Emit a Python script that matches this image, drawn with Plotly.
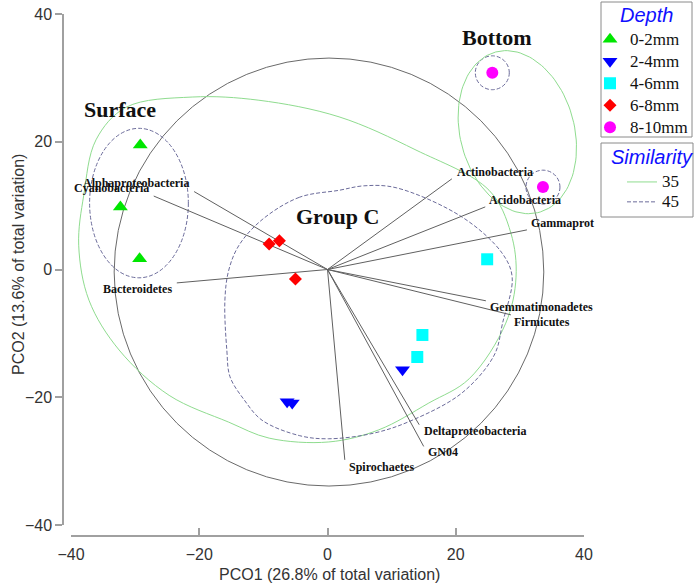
import numpy as np
import plotly.graph_objects as go

# ---------------- data ----------------
depth_names = ["0-2mm", "2-4mm", "4-6mm", "6-8mm", "8-10mm"]
depth_x = [
    [-29.2, -32.3, -29.3],
    [-6.3, -5.5, 11.7],
    [24.9, 14.8, 14.0],
    [-9.1, -7.5, -5.0],
    [25.7, 33.6],
]
depth_y = [
    [19.5, 9.8, 1.7],
    [-20.7, -20.9, -15.7],
    [1.6, -10.25, -13.7],
    [4.0, 4.5, -1.5],
    [30.8, 12.9],
]

vector_names = ["Alphaproteobacteria", "Cyanobacteria", "Bacteroidetes", "Actinobacteria",
                "Acidobacteria", "Gammaprot", "Gemmatimonadetes", "Firmicutes",
                "Deltaproteobacteria", "GN04", "Spirochaetes"]
vector_x = [-20.8, -27.1, -23.5, 19.4, 24.6, 31.1, 24.7, 28.6, 14.3, 15.0, 2.7]
vector_y = [12.2, 11.5, -2.1, 14.2, 9.8, 6.2, -4.9, -7.1, -24.3, -27.7, -29.8]

# similarity 35 contours
sim35_surface_x = [-38.8, -38.0, -36.1, -31.4, -21.1, -10.7, 1.8, 13.8, 25.2, 28.6, 29.4, 27.8,
                   22.1, 15.8, 8.0, 0.2, -9.1, -15.4, -24.7, -32.5, -37.2]
sim35_surface_y = [3.8, 11.7, 20.3, 25.4, 27.0, 26.5, 23.9, 18.7, 12.4, 5.7, -1.2, -8.4,
                   -17.1, -20.9, -25.1, -27.0, -26.4, -23.9, -19.7, -12.6, -4.8]
sim35_bottom = dict(cx=29.6, cy=21.5, a=13.0, b=8.9, angle_deg=105)

# similarity 45 contours
sim45_groupc_x = [1.8, -4.4, -10.2, -13.8, -15.4, -16.0, -15.7, -15.2, -13.0, -10.2, -4.4, 0.2,
                  7.3, 13.2, 21.0, 26.0, 27.3, 28.8, 27.2, 21.0, 10.7, 5.7]
sim45_groupc_y = [12.4, 11.3, 7.8, 3.8, -0.1, -4.8, -12.6, -16.8, -20.4, -23.6, -26.0, -26.5,
                  -25.6, -23.6, -19.3, -13.4, -8.4, -1.2, 2.6, 8.2, 12.8, 13.1]
sim45_surface = dict(cx=-29.4, cy=10.4, rx=7.7, ry=11.7)
sim45_bottom = [dict(cx=25.7, cy=30.8, r=2.65), dict(cx=33.6, cy=12.9, r=2.65)]

vector_circle = dict(cx=0.23, cy=-0.4, r=33.5)

group_labels = ["Surface", "Group C", "Bottom"]
group_label_x = [-32.4, 1.6, 26.4]
group_label_y = [25.0, 8.3, 36.4]

legend_titles = ["Depth", "Similarity"]
similarity_levels = ["35", "45"]

x_ticks = [-40, -20, 0, 20, 40]
y_ticks = [-40, -20, 0, 20, 40]

# ---------------- styles ----------------
W, H = 700, 587
marker_symbols = ["triangle-up", "triangle-down", "square", "diamond", "circle"]
marker_colors = ["#00e600", "#0000ff", "#00ffff", "#ff0000", "#ff00ff"]
marker_sizes = [13, 13, 12, 10, 12]
green = "#8fdc8f"
dashc = "#6b6b9a"
dash_pat = "4px,2px"
axis_c = "#a0a0a0"
box_c = "#8a8a8a"
# label placement relative to vector ends: (xanchor, xshift, yshift)
label_place = [("right", -3, 9), ("right", -3, 8), ("right", -3, -6), ("left", 3, 7),
               ("left", 2, 7), ("left", 2, 7), ("left", 2, -6), ("left", 1, -7),
               ("left", 3, -6), ("left", 2, -6), ("left", 2, -7)]
LEG_TXT = 17

def leg_name(t):
    return '<span style="font-size:%dpx">%s</span>' % (LEG_TXT, t)

def px_x(p):
    return p / W

def px_y(p):
    return 1 - p / H

fig = go.Figure()

def closed(xs, ys):
    return list(xs) + [xs[0]], list(ys) + [ys[0]]

# vector circle
fig.add_shape(type="circle", xref="x", yref="y",
              x0=vector_circle["cx"] - vector_circle["r"], x1=vector_circle["cx"] + vector_circle["r"],
              y0=vector_circle["cy"] - vector_circle["r"], y1=vector_circle["cy"] + vector_circle["r"],
              line=dict(color="#6a6a6a", width=1), layer="below")

# 45 ellipses (surface + bottom circles)
fig.add_shape(type="circle", xref="x", yref="y",
              x0=sim45_surface["cx"] - sim45_surface["rx"], x1=sim45_surface["cx"] + sim45_surface["rx"],
              y0=sim45_surface["cy"] - sim45_surface["ry"], y1=sim45_surface["cy"] + sim45_surface["ry"],
              line=dict(color=dashc, width=1, dash=dash_pat), layer="below")
for c in sim45_bottom:
    fig.add_shape(type="circle", xref="x", yref="y",
                  x0=c["cx"] - c["r"], x1=c["cx"] + c["r"], y0=c["cy"] - c["r"], y1=c["cy"] + c["r"],
                  line=dict(color=dashc, width=1, dash=dash_pat), layer="below")

# 35 contours
cx, cy = closed(sim35_surface_x, sim35_surface_y)
fig.add_trace(go.Scatter(x=cx, y=cy, mode="lines", line=dict(color=green, width=1, shape="spline", smoothing=1.0),
                         name=leg_name(similarity_levels[0]), legend="legend2", showlegend=True, hoverinfo="skip"))
t = np.linspace(0, 2 * np.pi, 120)
ang = np.deg2rad(sim35_bottom["angle_deg"])
ex_ = sim35_bottom["a"] * np.cos(t)
ey_ = sim35_bottom["b"] * np.sin(t)
bx = sim35_bottom["cx"] + ex_ * np.cos(ang) - ey_ * np.sin(ang)
by = sim35_bottom["cy"] + ex_ * np.sin(ang) + ey_ * np.cos(ang)
fig.add_trace(go.Scatter(x=bx, y=by, mode="lines", line=dict(color=green, width=1),
                         showlegend=False, hoverinfo="skip"))
# 45 group C contour
cx, cy = closed(sim45_groupc_x, sim45_groupc_y)
fig.add_trace(go.Scatter(x=cx, y=cy, mode="lines", line=dict(color=dashc, width=1, dash=dash_pat, shape="spline", smoothing=1.0),
                         name=leg_name(similarity_levels[1]), legend="legend2", showlegend=True, hoverinfo="skip"))

# vectors
vx, vy = [], []
for ex, ey in zip(vector_x, vector_y):
    vx += [0, ex, None]
    vy += [0, ey, None]
fig.add_trace(go.Scatter(x=vx, y=vy, mode="lines", line=dict(color="#606060", width=1),
                         showlegend=False, hoverinfo="skip"))
for name, ex, ey, (xa, xs, ys) in zip(vector_names, vector_x, vector_y, label_place):
    fig.add_annotation(x=ex, y=ey, text=name, showarrow=False, xanchor=xa, yanchor="middle",
                       xshift=xs, yshift=ys,
                       font=dict(family="Liberation Serif", size=12, color="#111111", weight="bold"))

# points
for name, xs, ys, sym, col, sz in zip(depth_names, depth_x, depth_y, marker_symbols, marker_colors, marker_sizes):
    fig.add_trace(go.Scatter(x=xs, y=ys, mode="markers", name=leg_name(name), legend="legend",
                             marker=dict(symbol=sym, color=col, size=sz, line=dict(width=0))))

for tx, x, y in zip(group_labels, group_label_x, group_label_y):
    fig.add_annotation(x=x, y=y, text=tx, showarrow=False, xanchor="center", yanchor="middle",
                       font=dict(family="Liberation Serif", size=22, color="#111111", weight="bold"))

# axis titles
fig.add_annotation(xref="paper", yref="paper", x=px_x(329.5), y=px_y(574), text="PCO1 (26.8% of total variation)",
                   showarrow=False, xanchor="center", yanchor="middle",
                   font=dict(family="Liberation Sans", size=16, color="#333333"))
fig.add_annotation(xref="paper", yref="paper", x=px_x(18), y=px_y(265), text="PCO2 (13.6% of total variation)",
                   showarrow=False, xanchor="center", yanchor="middle", textangle=-90,
                   font=dict(family="Liberation Sans", size=16, color="#333333"))

# legend boxes and titles
title_font = dict(family="Liberation Sans", size=20, color="#1010ff", style="italic")
for (x0, y0, x1, y1) in [(601, 2, 692, 137), (601, 143, 693, 217)]:
    fig.add_shape(type="rect", xref="paper", yref="paper", x0=px_x(x0), x1=px_x(x1), y0=px_y(y1), y1=px_y(y0),
                  line=dict(color=box_c, width=1), fillcolor="rgba(255,255,255,0)", layer="above")
for tx, (x, y) in zip(legend_titles, [(646.7, 15.5), (651.7, 157)]):
    fig.add_annotation(xref="paper", yref="paper", x=px_x(x), y=px_y(y), text=tx, showarrow=False,
                       xanchor="center", yanchor="middle", font=title_font)

axis_common = dict(showgrid=False, zeroline=False, showline=True, linecolor=axis_c, linewidth=1.5,
                   tickcolor=axis_c, tickwidth=1.5, ticklen=7, automargin=False,
                   tickfont=dict(family="Liberation Sans", size=16, color="#333333"),
                   range=[-40, 40], fixedrange=True)

leg_common = dict(xanchor="left", yanchor="top", bgcolor="rgba(255,255,255,0)",
                  borderwidth=0, tracegroupgap=0)

fig.update_layout(
    width=W, height=H,
    margin=dict(l=0, r=0, t=0, b=0, autoexpand=False),
    paper_bgcolor="white", plot_bgcolor="white",
    xaxis=dict(domain=[px_x(71), px_x(584)], anchor="free", position=px_y(536), tickvals=x_ticks,
               ticks="inside", ticklabelstandoff=4, **axis_common),
    yaxis=dict(domain=[px_y(525), px_y(14)], anchor="free", position=px_x(63), tickvals=y_ticks,
               ticks="outside", **axis_common),
    legend=dict(x=px_x(590), y=px_y(23.3),
                font=dict(family="Liberation Serif", size=14.6, color="#111111"), **leg_common),
    legend2=dict(x=px_x(622), y=px_y(167),
                 font=dict(family="Liberation Serif", size=13, color="#111111"), **leg_common),
    showlegend=True,
)

fig.write_html("out.html", config={"displayModeBar": False},
               post_script="document.body.style.margin='0px';document.body.style.overflow='hidden';")
